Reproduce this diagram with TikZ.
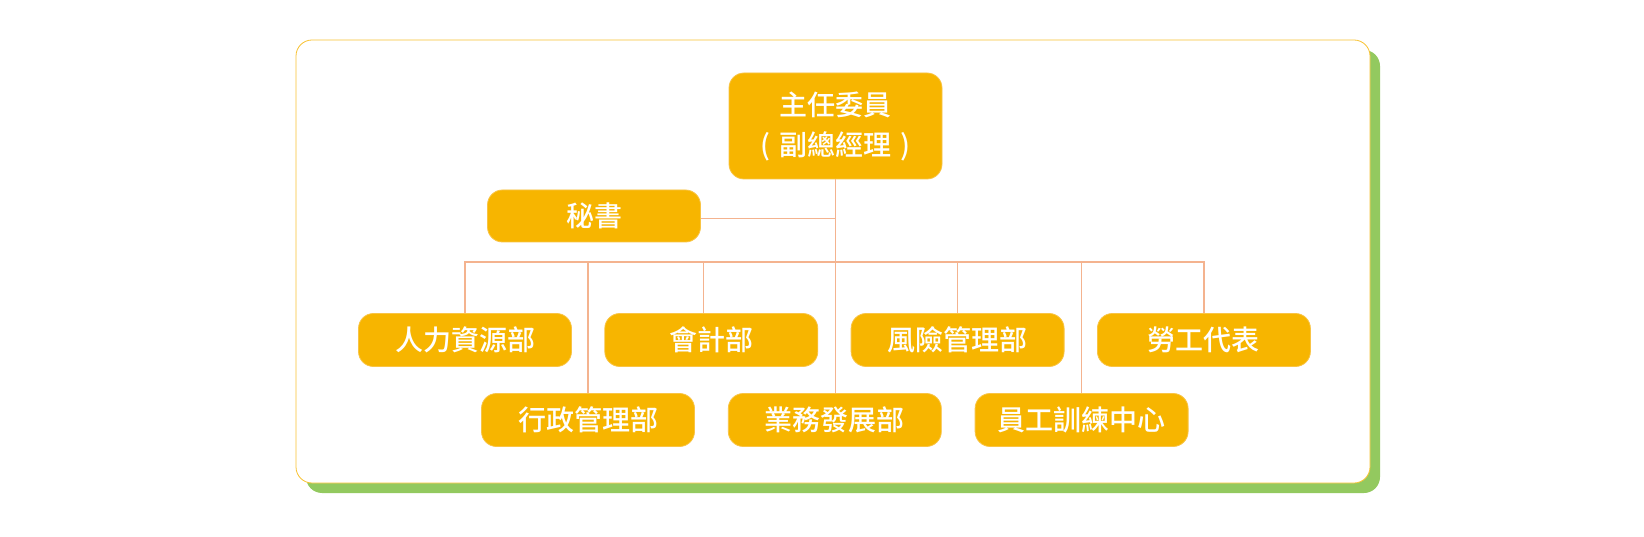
\documentclass[tikz,border=0pt]{standalone}
\usepackage{fontspec}
\setmainfont{Noto Sans CJK TC}[UprightFont=* Medium]
\usetikzlibrary{positioning}
\definecolor{boxfill}{HTML}{F7B500}
\definecolor{boxedge}{HTML}{F9C444}
\definecolor{linkcol}{HTML}{F4B38F}
\definecolor{frameedge}{HTML}{F8C232}
\definecolor{shadowgreen}{HTML}{93C95F}
\tikzset{
    unit/.style = {draw=boxedge, fill=boxfill, rounded corners=15pt, line width=0.8pt,
                   minimum width=213pt, minimum height=53pt, inner sep=0pt,
                   text=white, font=\fontsize{28}{40}\selectfont, align=center},
    link/.style = {draw=linkcol, line width=1.2pt},
}

\begin{document}
\begin{tikzpicture}[x=1pt, y=-1pt, node distance=32.5pt]
    \useasboundingbox (0,0) rectangle (1644,537);
    % frame with shadow
    \fill[shadowgreen, rounded corners=16pt] (306,50) rectangle (1380,493);
    \filldraw[fill=white, draw=frameedge, line width=0.8pt, rounded corners=16pt] (296,40) rectangle (1370,483);

    \node[unit, minimum height=106pt] (chief) at (835.5,126) {主任委員\\(\hspace{9pt}副總經理\hspace{9pt})};
    \node[unit, minimum height=52pt] (secr) at (594,216) {秘書};

    \node[unit] (hr) at (465,340) {人力資源部};
    \node[unit, right=of hr] (acc) {會計部};
    \node[unit, right=of acc] (risk) {風險管理部};
    \node[unit, right=of risk] (labor) {勞工代表};

    \node[unit] (admin) at (588,420) {行政管理部};
    \node[unit, right=33pt of admin] (biz) {業務發展部};
    \node[unit, right=33pt of biz] (train) {員工訓練中心};

    \coordinate (bus) at (0,262);

    \draw[link] (chief.south) -- (chief.south |- biz.north);
    \draw[link] ([yshift=-2.5pt]secr.east) -- ([yshift=-2.5pt]secr.east -| chief.south);
    \draw[link] (hr.north) -- (hr.north |- bus) -- (labor.north |- bus) -- (labor.north);
    \draw[link] ([xshift=-8pt]acc.north) -- ([xshift=-8pt]acc.north |- bus);
    \draw[link] (risk.north) -- (risk.north |- bus);
    \draw[link] (admin.north) -- (admin.north |- bus);
    \draw[link] (train.north) -- (train.north |- bus);
\end{tikzpicture}
\end{document}
